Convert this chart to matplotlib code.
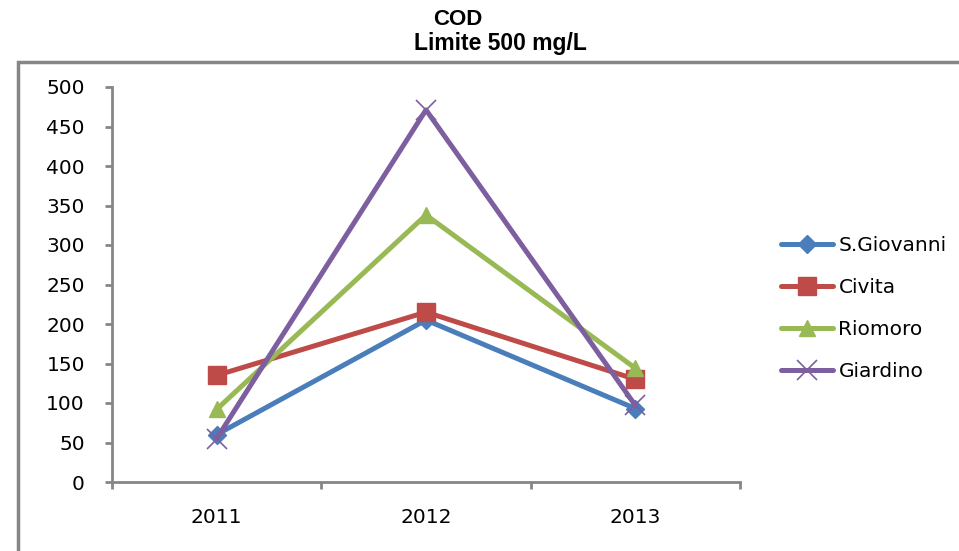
import matplotlib
matplotlib.use("Agg")
import matplotlib.pyplot as plt
from matplotlib.patches import Rectangle

# data
years = ["2011", "2012", "2013"]
s_giovanni = [60, 205, 93]
civita = [135, 215, 130]
riomoro = [92, 338, 144]
giardino = [55, 471, 97]

series = [
    ("S.Giovanni", s_giovanni, "#4a7ebb", "D", 9),
    ("Civita", civita, "#be4b48", "s", 13),
    ("Riomoro", riomoro, "#98b954", "^", 12),
    ("Giardino", giardino, "#7d5fa0", "x", 14),
]

W, H = 959, 551
fig = plt.figure(figsize=(W / 100, H / 100), dpi=100)

# outer chart frame (runs off the right/bottom edge like the source)
fig.patches.append(Rectangle((18 / W, -0.05), 1.2, (H - 62) / H + 0.05,
                             transform=fig.transFigure, fill=False,
                             edgecolor="#868686", linewidth=2.5))

ax = fig.add_axes([112 / W, (H - 482) / H, (740 - 112) / W, (482 - 87) / H])

x = [0, 1, 2]
for name, vals, col, mk, ms in series:
    kw = dict(markeredgewidth=1.2) if mk == "x" else dict(markeredgecolor=col)
    ax.plot(x, vals, color=col, linewidth=3.6, marker=mk, markersize=ms,
            markerfacecolor=col, label=name, solid_capstyle="round", **kw)

ax.set_xlim(-0.5, 2.5)
ax.set_ylim(0, 500)
ax.set_yticks(range(0, 501, 50))
ax.set_xticks(x)
ax.set_xticklabels(years)
ax.set_xticks([-0.5, 0.5, 1.5, 2.5], minor=True)

for s in ("top", "right"):
    ax.spines[s].set_visible(False)
for s in ("left", "bottom"):
    ax.spines[s].set_color("#868686")
    ax.spines[s].set_linewidth(2)

ax.tick_params(axis="y", length=5, width=2, color="#868686", labelsize=14.5, pad=14.5)
ax.tick_params(axis="x", which="major", length=0, labelsize=14.5, pad=19)
ax.tick_params(axis="x", which="minor", length=5, width=2, color="#868686")
for lab in ax.get_xticklabels() + ax.get_yticklabels():
    lab.set_family("DejaVu Sans")

fig.text(458 / W, 1 - 25 / H, "COD", ha="center", va="baseline",
         fontsize=16, fontweight="bold", family="Liberation Sans")
fig.text(500 / W, 1 - 50 / H, "Limite 500 mg/L", ha="center", va="baseline",
         fontsize=16.5, fontweight="bold", family="Liberation Sans")

ax.legend(loc="center left", bbox_to_anchor=(771 / W, 1 - 308.5 / H),
          bbox_transform=fig.transFigure, frameon=False, borderpad=0,
          handlelength=2.6, handletextpad=0.25, labelspacing=1.15,
          prop={"family": "DejaVu Sans", "size": 14.5})

fig.savefig("out.png", dpi=100)
